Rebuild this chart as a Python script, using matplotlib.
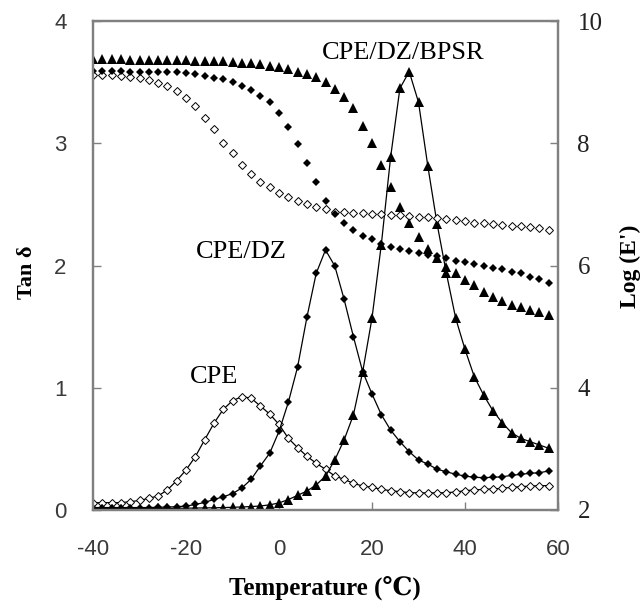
import matplotlib
matplotlib.use("Agg")
import matplotlib.pyplot as plt

plt.rcParams["axes.unicode_minus"] = False

# ── Data (temperature grid, 2 °C steps) ─────────────────────────────────
temp = [-40, -38, -36, -34, -32, -30, -28, -26, -24, -22,
        -20, -18, -16, -14, -12, -10, -8, -6, -4, -2,
        0, 2, 4, 6, 8, 10, 12, 14, 16, 18,
        20, 22, 24, 26, 28, 30, 32, 34, 36, 38,
        40, 42, 44, 46, 48, 50, 52, 54, 56, 58]

tan_cpe = [0.06, 0.06, 0.06, 0.06, 0.068, 0.078, 0.096, 0.115, 0.164, 0.24,
           0.327, 0.436, 0.573, 0.709, 0.823, 0.894, 0.927, 0.915, 0.85, 0.785,
           0.70, 0.587, 0.51, 0.44, 0.382, 0.333, 0.278, 0.251, 0.218, 0.196,
           0.186, 0.169, 0.158, 0.15, 0.142, 0.14, 0.14, 0.14, 0.142, 0.147,
           0.158, 0.164, 0.169, 0.172, 0.177, 0.186, 0.19, 0.196, 0.198, 0.2]

tan_dz = [0.02, 0.02, 0.02, 0.02, 0.02, 0.02, 0.02, 0.022, 0.024, 0.027,
          0.032, 0.045, 0.062, 0.086, 0.108, 0.134, 0.18, 0.25, 0.36, 0.465,
          0.643, 0.88, 1.17, 1.576, 1.936, 2.127, 1.996, 1.724, 1.418, 1.131,
          0.949, 0.78, 0.654, 0.559, 0.477, 0.409, 0.376, 0.333, 0.313, 0.292,
          0.278, 0.267, 0.265, 0.267, 0.272, 0.283, 0.292, 0.30, 0.305, 0.319]

tan_bpsr = [0.012, 0.012, 0.012, 0.012, 0.012, 0.012, 0.012, 0.013, 0.013, 0.014,
            0.015, 0.016, 0.017, 0.018, 0.02, 0.022, 0.025, 0.028, 0.033, 0.042,
            0.058, 0.085, 0.12, 0.155, 0.205, 0.278, 0.41, 0.573, 0.777, 1.131,
            1.57, 2.17, 2.885, 3.449, 3.586, 3.336, 2.814, 2.34, 1.936, 1.568,
            1.314, 1.09, 0.941, 0.812, 0.714, 0.632, 0.586, 0.559, 0.532, 0.505]

loge_cpe = [9.12, 9.12, 9.12, 9.10, 9.08, 9.07, 9.04, 8.99, 8.94, 8.86,
            8.74, 8.61, 8.41, 8.23, 8.01, 7.84, 7.65, 7.50, 7.37, 7.28,
            7.18, 7.12, 7.05, 7.01, 6.96, 6.92, 6.88, 6.87, 6.86, 6.86,
            6.84, 6.84, 6.83, 6.83, 6.81, 6.80, 6.79, 6.77, 6.76, 6.75,
            6.72, 6.70, 6.69, 6.68, 6.66, 6.65, 6.64, 6.63, 6.61, 6.58]

loge_dz = [9.18, 9.18, 9.18, 9.18, 9.17, 9.17, 9.17, 9.17, 9.16, 9.16,
           9.15, 9.14, 9.10, 9.07, 9.05, 9.01, 8.94, 8.87, 8.78, 8.67,
           8.49, 8.26, 7.99, 7.67, 7.36, 7.06, 6.84, 6.69, 6.58, 6.49,
           6.43, 6.35, 6.31, 6.27, 6.23, 6.20, 6.17, 6.15, 6.12, 6.08,
           6.06, 6.03, 6.00, 5.96, 5.94, 5.90, 5.87, 5.82, 5.78, 5.72]

loge_bpsr = [9.38, 9.38, 9.38, 9.38, 9.37, 9.37, 9.37, 9.37, 9.36, 9.36,
             9.36, 9.35, 9.35, 9.34, 9.34, 9.33, 9.32, 9.31, 9.29, 9.27,
             9.25, 9.21, 9.17, 9.13, 9.08, 9.00, 8.88, 8.75, 8.57, 8.28,
             8.00, 7.65, 7.29, 6.96, 6.69, 6.46, 6.27, 6.12, 5.98, 5.88,
             5.76, 5.68, 5.57, 5.49, 5.42, 5.36, 5.32, 5.27, 5.24, 5.19]

x_ticks = [-40, -20, 0, 20, 40, 60]
tan_ticks = [0, 1, 2, 3, 4]
loge_ticks = [2, 4, 6, 8, 10]

# ── Styles ───────────────────────────────────────────────────────────────
SERIF = ["Liberation Serif", "DejaVu Serif"]
SANS = ["Liberation Sans", "DejaVu Sans"]
spine_col = "#808080"

fig = plt.figure(figsize=(6.44, 6.02), dpi=100)
ax = fig.add_axes([93 / 644, 1 - 510 / 602, 465 / 644, 489 / 602])
ax2 = ax.twinx()

open_kw = dict(marker="D", ms=4.3, mfc="white", mec="black", mew=0.7)
dz_kw = dict(marker="D", ms=4.5, mfc="black", mec="black", mew=0)
tri_kw = dict(marker="^", ms=6.5, mfc="black", mec="black", mew=0)

# tan delta curves (markers + line)
ax.plot(temp, tan_cpe, color="black", lw=0.9, **open_kw)
ax.plot(temp, tan_dz, color="black", lw=0.9, **dz_kw)
ax.plot(temp, tan_bpsr, color="black", lw=0.9, **tri_kw)

# storage modulus (markers only)
ax2.plot(temp, loge_cpe, ls="none", **open_kw)
ax2.plot(temp, loge_dz, ls="none", **dz_kw)
ax2.plot(temp, loge_bpsr, ls="none", **tri_kw)

ax.set_xlim(-40, 60)
ax.set_ylim(0, 4)
ax2.set_ylim(2, 10)
ax.set_xticks(x_ticks)
ax.set_yticks(tan_ticks)
ax2.set_yticks(loge_ticks)

ax.tick_params(axis="both", direction="in", length=6, width=1, color=spine_col,
               labelsize=16, labelcolor="#3a3a3a")
ax.tick_params(axis="y", pad=19)
ax.tick_params(axis="x", pad=21)
ax2.tick_params(axis="y", direction="in", length=6, width=1, color=spine_col,
                labelsize=18, labelcolor="#222222", pad=14)
for lab in ax.get_xticklabels() + ax.get_yticklabels():
    lab.set_family(SANS)
for lab in ax2.get_yticklabels():
    lab.set_family(SERIF)

for a in (ax, ax2):
    for sp in a.spines.values():
        sp.set_color(spine_col)
        sp.set_linewidth(1.6)

# curve labels
ax.text(26.7, 3.74, "CPE/DZ/BPSR", fontsize=19, family=SERIF, ha="center", va="center")
ax.text(-8.1, 2.11, "CPE/DZ", fontsize=19, family=SERIF, ha="center", va="center")
ax.text(-14, 1.09, "CPE", fontsize=19, family=SERIF, ha="center", va="center")

# axis titles
fig.text(27 / 644, 1 - 272 / 602, "Tan δ", rotation=90, fontsize=16, fontweight="bold",
         family=SERIF, ha="center", va="center")
fig.text(630 / 644, 1 - 266 / 602, "Log (E')", rotation=90, fontsize=17, fontweight="bold",
         family=SERIF, ha="center", va="center")
fig.text(325 / 644, 1 - 589 / 602, "Temperature (℃)", fontsize=18, fontweight="bold",
         family=SERIF, ha="center", va="center")

fig.savefig("out.png", dpi=100)
